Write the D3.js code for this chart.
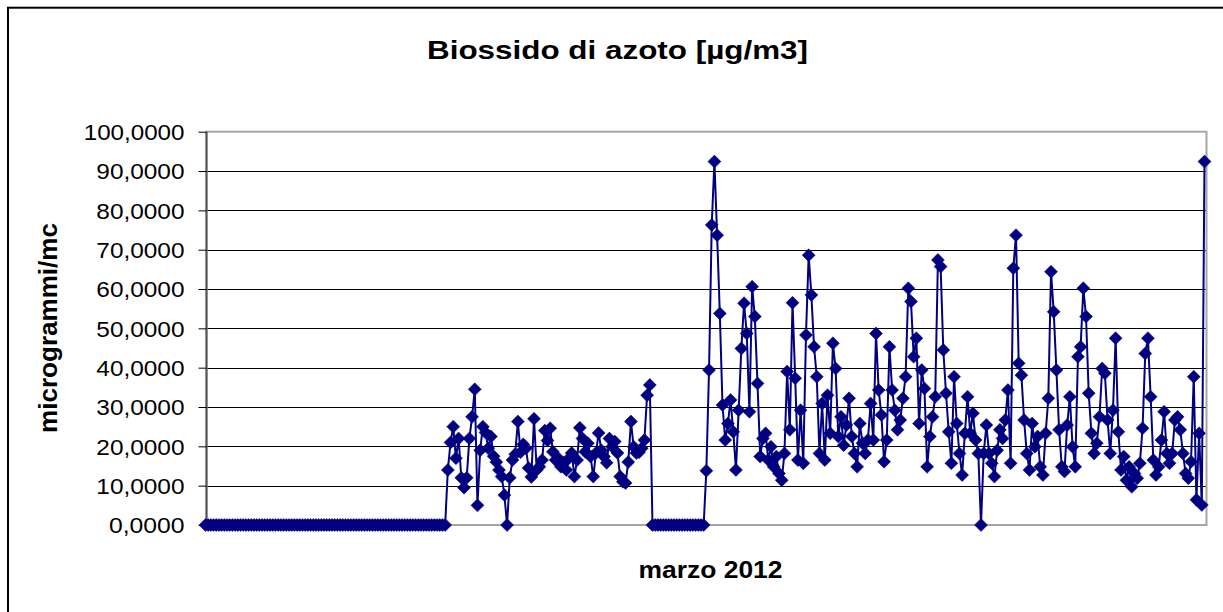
<!DOCTYPE html>
<html>
<head>
<meta charset="utf-8">
<script src="https://cdn.jsdelivr.net/npm/d3@7"></script>
<style>
  body { margin: 0; background: #fff; }
  svg { display: block; }
  text { font-family: "Liberation Sans", Arial, sans-serif; fill: #000; }
</style>
</head>
<body>
<div id="chart"></div>
<script>
// readings, one every two hours through March 2012
var zeroStart = [
  0,0,0,0,0,0,0,0,0,0,
  0,0,0,0,0,0,0,0,0,0,
  0,0,0,0,0,0,0,0,0,0,
  0,0,0,0,0,0,0,0,0,0,
  0,0,0,0,0,0,0,0,0,0,
  0,0,0,0,0,0,0,0,0,0,
  0,0,0,0,0,0,0,0,0,0,
  0,0,0,0,0,0,0,0,0,0,
  0,0,0,0,0,0,0,0,0,0
];
var week2 = [
  14, 21, 25, 17, 22, 12, 9.5, 12, 22, 27.5,
  34.5, 5, 19, 25, 23.5, 19.5, 22.5, 17.5, 16, 14,
  12.3, 7.6, 0, 12, 16.5, 18, 26.3, 18.5, 20.5, 19.5,
  14.5, 12.2, 27, 14, 14.8, 16.5, 24, 21.5, 24.6, 18.6,
  16.5, 17, 14.8, 15.8, 14, 17, 18.3, 12.3, 16.5, 24.7,
  22, 18.6, 20.8, 17.4, 12.3, 18.3, 23.4, 19, 17.4, 15.8,
  22, 19.9, 21.2, 18.3, 12.3, 11, 10.7, 16, 26.3, 19.9,
  18.3, 18.5, 19.5, 21.6, 33, 35.6
];
var zeroGap = [
  0,0,0,0,0,0,0,0,0,0,
  0,0,0,0,0,0,0,0,0,0
];
var weekEnd = [
  13.8, 39.4, 76.3, 92.4, 73.7, 53.8, 30.5, 21.6, 25.8, 31.8,
  23.7, 14, 29.2, 44.9, 56.4, 48.7, 28.8, 60.6, 53, 36,
  17.4, 22, 23.3, 16.5, 19.9, 14.8, 17.4, 13.1, 11.4, 18.2,
  39, 24.2, 56.5, 37.3, 16.5, 29.2, 15.7, 48.3, 68.6, 58.5,
  45.3, 37.7, 18.2, 30.9, 16.5, 33, 23.3, 46.2, 39.8, 22.5,
  27.5, 20.3, 25.4, 32.2, 22.5, 18.2, 14.8, 25.8, 20.8, 18.2,
  21.6, 30.9, 21.6, 48.7, 34.3, 28, 16.1, 21.6, 45.3, 34.3,
  29.2, 24.2, 26.7, 32.2, 37.7, 60.2, 56.8, 42.8, 47.5, 25.8,
  39.4, 34.7, 14.8, 22.5, 27.5, 32.6, 67.4, 65.7, 44.5, 33.5,
  23.7, 15.7, 37.7, 25.8, 18.2, 12.7, 23.3, 32.6, 23.3, 28.4,
  21.6, 18.2, 0, 18.2, 25.4, 18.2, 15.7, 12.3, 19, 24.2,
  22, 26.7, 34.3, 15.7, 65.3, 73.7, 41.1, 38.1, 26.7, 18.2,
  14, 25.8, 19.9, 22.5, 14.8, 12.7, 23.3, 32.2, 64.4, 54.2,
  39.4, 24.2, 14.8, 13.6, 25.4, 32.6, 19.9, 14.8, 42.8, 45.3,
  60.2, 53, 33.5, 23.3, 18.2, 20.8, 27.5, 39.8, 38.6, 26.7,
  18.2, 29.2, 47.5, 23.7, 14, 17.4, 11.4, 14.8, 9.7, 13.1,
  11.9, 15.7, 24.6, 43.6, 47.5, 32.6, 16.5, 12.7, 14.8, 21.6,
  28.8, 18.2, 15.7, 18.2, 26.7, 27.5, 24.2, 18.2, 13.1, 11.9,
  16.1, 37.7, 6.4, 23.3, 5.1, 92.4
];
var yTicks = [0, 10, 20, 30, 40, 50, 60, 70, 80, 90, 100];
var chartTitle = "Biossido di azoto [µg/m3]";
var xTitle = "marzo 2012";
var yTitle = "microgrammi/mc";

var values = zeroStart.concat(week2, zeroGap, weekEnd);

var width = 1223, height = 612;
var plot = { left: 206.5, right: 1206.5, top: 131.7, bottom: 525 };
var navy = "#000080";

var svg = d3.select("#chart")
  .append("svg")
  .attr("width", width)
  .attr("height", height);

svg.append("rect")
  .attr("width", width).attr("height", height)
  .attr("fill", "#fff");

// outer frame (runs off the right and bottom edge)
svg.append("rect")
  .attr("x", 8).attr("y", 7.7)
  .attr("width", width + 20).attr("height", height + 20)
  .attr("fill", "none")
  .attr("stroke", "#000")
  .attr("stroke-width", 2);

var x = d3.scaleLinear()
  .domain([0, values.length - 1])
  .range([plot.left - 1, plot.right - 2]);

var y = d3.scaleLinear()
  .domain([0, 100])
  .range([plot.bottom, plot.top]);

//Gridlines
svg.append("g")
  .selectAll("line")
  .data(yTicks.filter(function(d) { return d > 0 && d < 100; }))
  .enter()
  .append("line")
  .attr("x1", plot.left).attr("x2", plot.right)
  .attr("y1", function(d) { return Math.round(y(d)) + 0.5; })
  .attr("y2", function(d) { return Math.round(y(d)) + 0.5; })
  .attr("stroke", "#000")
  .attr("stroke-width", 1);

//Plot border
svg.append("rect")
  .attr("x", plot.left).attr("y", plot.top)
  .attr("width", plot.right - plot.left)
  .attr("height", plot.bottom - plot.top)
  .attr("fill", "none")
  .attr("stroke", "#a6a6a6")
  .attr("stroke-width", 2);

//Y axis
var fmt = d3.format(".4f");
var yAxis = svg.append("g")
  .attr("transform", "translate(" + plot.left + ",0)")
  .call(d3.axisLeft(y)
    .tickValues(yTicks)
    .tickSize(8)
    .tickPadding(14)
    .tickFormat(function(d) { return fmt(d).replace(".", ","); }));

yAxis.select(".domain")
  .attr("stroke", "#555")
  .attr("stroke-width", 2)
  .attr("d", "M0," + plot.bottom + "V" + plot.top);
yAxis.selectAll(".tick line").attr("stroke", "#000");
yAxis.selectAll(".tick text")
  .attr("font-size", 21.5)
  .attr("font-family", "'Liberation Sans', Arial, sans-serif")
  .attr("fill", "#000")
  .attr("dy", "0.36em")
  .attr("textLength", function(d) { return fmt(d).length * 12.6; })
  .attr("lengthAdjust", "spacingAndGlyphs");

//Series line
var line = d3.line()
  .x(function(d, i) { return x(i); })
  .y(function(d) { return y(d); });

svg.append("path")
  .datum(values)
  .attr("d", line)
  .attr("fill", "none")
  .attr("stroke", navy)
  .attr("stroke-width", 2)
  .attr("stroke-linejoin", "round");

//Diamond markers
var r = 6.5;
svg.append("g")
  .selectAll("path")
  .data(values)
  .enter()
  .append("path")
  .attr("transform", function(d, i) { return "translate(" + x(i) + "," + y(d) + ")"; })
  .attr("d", "M0," + (-r) + "L" + r + ",0L0," + r + "L" + (-r) + ",0Z")
  .attr("fill", navy)
  .attr("stroke", navy)
  .attr("stroke-width", 0.5);

//Titles
svg.append("text")
  .attr("x", 617.5).attr("y", 59)
  .attr("text-anchor", "middle")
  .attr("font-size", 26)
  .attr("font-weight", "bold")
  .attr("textLength", 381)
  .attr("lengthAdjust", "spacingAndGlyphs")
  .text(chartTitle);

svg.append("text")
  .attr("x", 710.5).attr("y", 578)
  .attr("text-anchor", "middle")
  .attr("font-size", 23)
  .attr("font-weight", "bold")
  .attr("textLength", 144)
  .attr("lengthAdjust", "spacingAndGlyphs")
  .text(xTitle);

svg.append("text")
  .attr("transform", "translate(57,328) rotate(-90)")
  .attr("text-anchor", "middle")
  .attr("font-size", 26)
  .attr("font-weight", "bold")
  .attr("textLength", 210)
  .attr("lengthAdjust", "spacingAndGlyphs")
  .text(yTitle);
</script>
</body>
</html>
